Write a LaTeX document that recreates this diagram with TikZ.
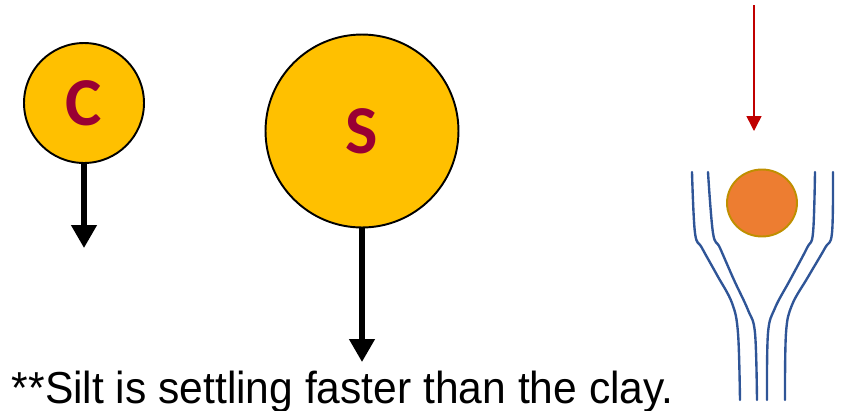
\documentclass[tikz,border=0pt]{standalone}
\usepackage{fontspec}
\setmainfont{Liberation Sans}
\newfontfamily\letterfont{Carlito}
\usetikzlibrary{arrows.meta}
\usetikzlibrary{shapes.geometric}
\definecolor{grainyellow}{HTML}{FFC000}
\definecolor{lettered}{HTML}{990033}
\definecolor{ballorange}{HTML}{ED7D31}
\definecolor{ballrim}{HTML}{BF8F00}
\definecolor{flowblue}{HTML}{2F5597}
\definecolor{droprd}{HTML}{C00000}

\begin{document}
\begin{tikzpicture}[x=0.02cm, y=-0.02cm,
  grain/.style={circle, draw=black, line width=1.1pt, fill=grainyellow,
                inner sep=0pt, text=lettered, font=\letterfont\bfseries\fontsize{39}{42}\selectfont},
  fall/.style={-{Triangle[length=13pt, width=14pt]}, line width=2.9pt, black},
  flow/.style={flowblue, line width=1.35pt, line cap=round},
  push/.style={-{Triangle[length=8.5pt, width=8.5pt]}, droprd, line width=0.85pt}]
  \useasboundingbox (0,0) rectangle (843,410);
  % the two grains and their settling speed
  \node[grain, minimum size=2.4cm]  (clay) at (84,103)  {C};
  \node[grain, minimum size=3.86cm] (silt) at (362,131) {S};
  \coordinate (clayend) at (84,248);
  \coordinate (siltend) at (362,362);
  \draw[fall] (clay.south) -- (clayend);
  \draw[fall] (silt.south) -- (siltend);
  \node[anchor=base west, xscale=0.95, font=\fontsize{25.5}{28}\selectfont] (note) at (6,403)
    {**Silt is settling faster than the clay.};
  % particle in the flow, streamlines bent round it
  \node[ellipse, draw=ballrim, line width=1.1pt, fill=ballorange,
        minimum width=1.4cm, minimum height=1.34cm, inner sep=0pt] (ball) at (762,203) {};
  \coordinate (rtop) at (754,5);
  \coordinate (rtip) at (754,131);
  \draw[push] (rtop) -- (rtip);
  \draw[flow] plot[smooth, tension=0.6] coordinates
    {(692,172) (695,233) (702,248) (717,275) (732,303) (738,333) (740,400)};
  \draw[flow] plot[smooth, tension=0.6] coordinates
    {(708,172) (713,233) (720,248) (734,280) (748,310) (755,333) (757,400)};
  \draw[flow] plot[smooth, tension=0.6] coordinates
    {(815,172) (813,233) (807,248) (790,280) (775,308) (768,333) (767,400)};
  \draw[flow] plot[smooth, tension=0.6] coordinates
    {(833,172) (832,233) (825,248) (808,277) (792,305) (786,333) (785,400)};
\end{tikzpicture}
\end{document}
